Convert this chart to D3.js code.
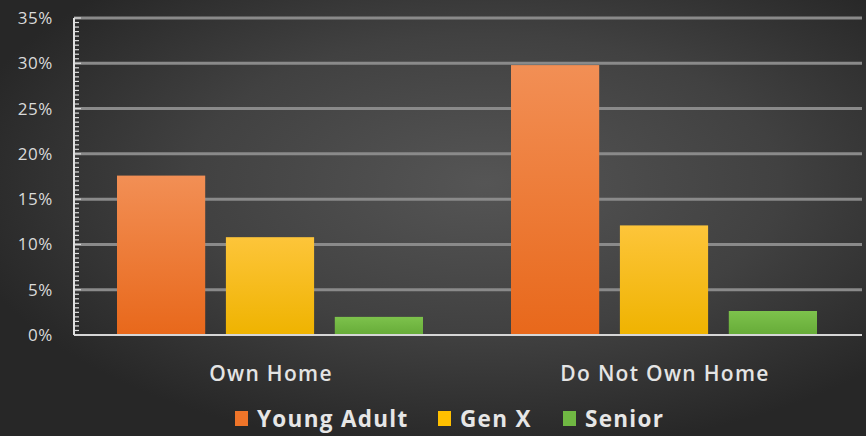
<!DOCTYPE html>
<html>
<head>
<meta charset="utf-8">
<script src="https://cdn.jsdelivr.net/npm/d3@7"></script>
<style>
  html, body { margin: 0; padding: 0; background: #2a2a2a; }
  svg { display: block; }
  text { font-family: "Open Sans", "Noto Sans", sans-serif; }
</style>
</head>
<body>
<svg id="chart" width="866" height="436"></svg>
<script>
// Share of respondents by home ownership and generation
const categories = ["Own Home", "Do Not Own Home"];
const seriesNames = ["Young Adult", "Gen X", "Senior"];
const youngAdult = [17.6, 29.8];
const genX = [10.8, 12.1];
const senior = [2.0, 2.65];
const yTicks = [0, 5, 10, 15, 20, 25, 30, 35];

const seriesValues = [youngAdult, genX, senior];
const palette = [
  { top: "#f28f55", bottom: "#e8681b", legend: "#ee7429" },
  { top: "#fdc53a", bottom: "#efb300", legend: "#ffc000" },
  { top: "#7dc24c", bottom: "#66ab38", legend: "#70b843" }
];

const W = 866, H = 436;
const margin = { top: 18, right: 4, bottom: 101, left: 74 };
const svg = d3.select("#chart");
const defs = svg.append("defs");

// Background: dark radial glow
const bg = defs.append("radialGradient").attr("id", "bg")
  .attr("cx", "0.56").attr("cy", "0.42").attr("r", "0.62");
bg.append("stop").attr("offset", "0").attr("stop-color", "#555555");
bg.append("stop").attr("offset", "0.55").attr("stop-color", "#414141");
bg.append("stop").attr("offset", "1").attr("stop-color", "#272727");
svg.append("rect").attr("width", W).attr("height", H).attr("fill", "url(#bg)");

palette.forEach((p, i) => {
  const g = defs.append("linearGradient").attr("id", "bar" + i)
    .attr("x1", 0).attr("y1", 0).attr("x2", 0).attr("y2", 1);
  g.append("stop").attr("offset", "0").attr("stop-color", p.top);
  g.append("stop").attr("offset", "1").attr("stop-color", p.bottom);
});

const x0 = d3.scaleBand().domain(categories)
  .range([margin.left, W - margin.right]).paddingInner(0).paddingOuter(0);
const x1 = d3.scaleBand().domain(seriesNames)
  .range([43, 349]).paddingInner(0.19).paddingOuter(0);
const y = d3.scaleLinear().domain([0, 35]).range([H - margin.bottom, margin.top]);

// Gridlines
svg.append("g").selectAll("line").data(yTicks.filter(d => d > 0)).join("line")
  .attr("x1", margin.left).attr("x2", W - margin.right)
  .attr("y1", d => y(d)).attr("y2", d => y(d))
  .attr("stroke", "#8a8a8a").attr("stroke-width", 3);

// Minor ticks every 0.5%
const minor = d3.range(0, 35.01, 0.5);
svg.append("g").selectAll("line").data(minor).join("line")
  .attr("x1", margin.left).attr("x2", d => margin.left + (d % 5 === 0 ? 7 : 5))
  .attr("y1", d => y(d)).attr("y2", d => y(d))
  .attr("stroke", "#dcdcdc").attr("stroke-width", 1.2);

// Bars
const groups = svg.append("g").selectAll("g").data(categories).join("g")
  .attr("transform", d => `translate(${x0(d)},0)`);
groups.selectAll("rect")
  .data((c, ci) => seriesNames.map((s, si) => ({ s, si, v: seriesValues[si][ci] })))
  .join("rect")
  .attr("x", d => x1(d.s))
  .attr("width", x1.bandwidth())
  .attr("y", d => y(d.v))
  .attr("height", d => y(0) - y(d.v))
  .attr("fill", d => `url(#bar${d.si})`);

// Axis lines
svg.append("line").attr("x1", margin.left).attr("x2", W - margin.right)
  .attr("y1", y(0)).attr("y2", y(0)).attr("stroke", "#d6d6d6").attr("stroke-width", 2);
svg.append("line").attr("x1", margin.left).attr("x2", margin.left)
  .attr("y1", y(35)).attr("y2", y(0)).attr("stroke", "#e0e0e0").attr("stroke-width", 2);

// Y labels
const yAxis = d3.axisLeft(y).tickValues(yTicks).tickFormat(d => d + "%").tickSize(0).tickPadding(21);
const ya = svg.append("g").attr("transform", `translate(${margin.left},0)`).call(yAxis);
ya.select(".domain").remove();
ya.selectAll("text").attr("fill", "#dadada").attr("font-size", 17)
  .attr("letter-spacing", "0.6px")
  .attr("font-family", "'Open Sans', sans-serif");

// Category labels
const xAxis = d3.axisBottom(x0).tickSize(0).tickPadding(0);
const xa = svg.append("g").attr("transform", `translate(0,${y(0) + 39})`).call(xAxis);
xa.select(".domain").remove();
xa.selectAll("text").attr("fill", "#e4e4e4").attr("font-size", 21)
  .attr("font-weight", 600).attr("letter-spacing", "1.3px")
  .attr("font-family", "'Open Sans', sans-serif").attr("dy", "0.32em");

// Legend
const legendX = [235, 438, 563];
const legend = svg.append("g").selectAll("g").data(seriesNames).join("g")
  .attr("transform", (d, i) => `translate(${legendX[i]},411)`);
legend.append("rect").attr("width", 13).attr("height", 15)
  .attr("fill", (d, i) => palette[i].legend);
legend.append("text").attr("x", 22).attr("y", 16)
  .attr("fill", "#e6e6e6").attr("font-size", 22.5).attr("font-weight", 700)
  .attr("letter-spacing", "1.3px")
  .text(d => d);
</script>
</body>
</html>
